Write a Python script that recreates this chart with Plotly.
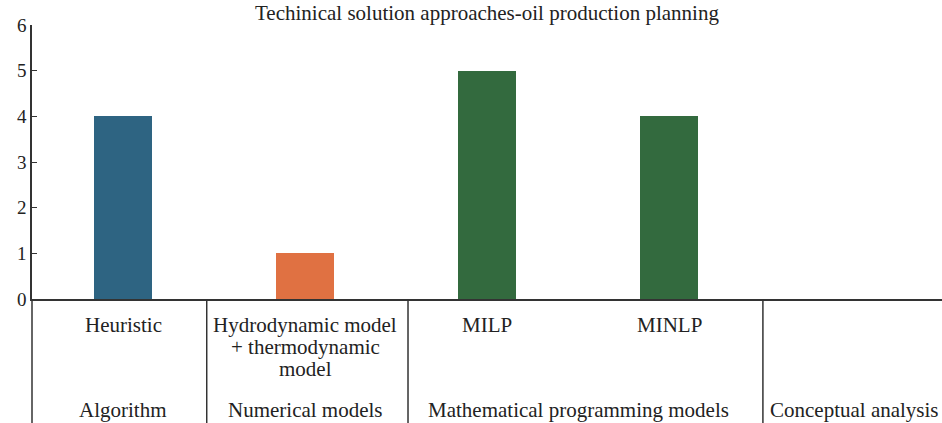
import plotly.graph_objects as go

# ---- data ----
categories = ["Heuristic", "Hydrodynamic model<br>+ thermodynamic<br>model", "MILP", "MINLP", "Conceptual"]
category_labels = ["Heuristic", "Hydrodynamic model<br>+ thermodynamic<br>model", "MILP", "MINLP", ""]
counts = [4, 1, 5, 4, 0]
bar_colors = ["#2e6482", "#e07142", "#336a3e", "#336a3e", "#336a3e"]
groups = ["Algorithm", "Numerical models", "Mathematical programming models", "Conceptual analysis"]
group_members = [[0], [1], [2, 3], [4]]
separators = [0.46, 1.566, 3.516]
y_ticks = [0, 1, 2, 3, 4, 5, 6]
title_text = "Techinical solution approaches-oil production planning"

FONT = "Liberation Serif, Times New Roman, serif"
AX = "#333333"

fig = go.Figure()
fig.add_trace(go.Bar(
    x=categories, y=counts, marker=dict(color=bar_colors, line=dict(width=0)),
    width=0.32, showlegend=False, hoverinfo="skip"))

annotations = []
# category labels (split per line for tighter spacing)
for cat, lab in zip(categories, category_labels):
    if not lab:
        continue
    for i, line in enumerate(lab.split("<br>")):
        annotations.append(dict(
            x=cat, xref="x", y=0, yref="paper", yanchor="top",
            yshift=-12 - i * 22, text=line, showarrow=False,
            font=dict(family=FONT, size=21, color="#222")))
# group labels
for g, mem in zip(groups, group_members):
    xc = sum(mem) / len(mem)
    annotations.append(dict(
        x=xc + (0.02 if len(mem) == 1 and mem[0] == 4 else 0), xref="x", y=0,
        yref="paper", yanchor="top", yshift=-97,
        text=g, showarrow=False, font=dict(family=FONT, size=21, color="#222")))
# title
annotations.append(dict(
    x=0.5, xref="paper", y=1, yref="paper", yanchor="middle", yshift=12,
    text=title_text, showarrow=False, font=dict(family=FONT, size=21, color="#222")))

shapes = []
for s in separators:
    shapes.append(dict(type="line", xref="x", yref="paper", x0=s, x1=s,
                       y0=0, y1=-0.46, line=dict(color=AX, width=1.5)))
shapes.append(dict(type="line", xref="paper", yref="paper", x0=0, x1=0,
                   y0=0, y1=-0.46, line=dict(color=AX, width=1.5)))

fig.update_layout(
    width=942, height=423,
    margin=dict(l=32, r=0, t=25, b=124),
    paper_bgcolor="white", plot_bgcolor="white",
    annotations=annotations, shapes=shapes,
    bargap=0,
    xaxis=dict(type="category", range=[-0.5, 4.5], showticklabels=False,
               ticks="", showline=True, linecolor=AX, linewidth=1.5,
               showgrid=False, zeroline=False, fixedrange=True),
    yaxis=dict(range=[0, 6], tickvals=y_ticks, ticks="inside", ticklen=5,
               tickcolor=AX, tickwidth=1, showline=True, linecolor=AX,
               linewidth=1.5, showgrid=False, zeroline=False,
               tickfont=dict(family=FONT, size=19, color="#222"),
               fixedrange=True),
)

fig.write_html("out.html", config={"displayModeBar": False},
               post_script="document.body.style.margin='0';document.body.style.overflow='hidden';")
